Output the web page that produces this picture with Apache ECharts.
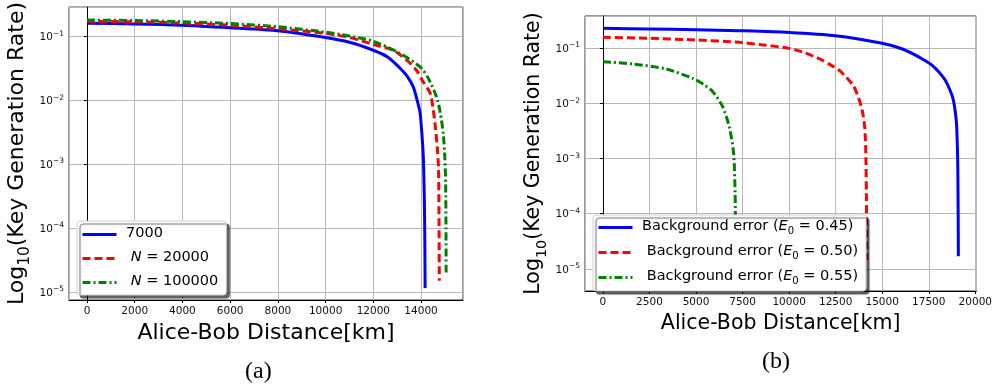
<!DOCTYPE html>
<html>
<head>
<meta charset="utf-8">
<script src="https://cdn.jsdelivr.net/npm/echarts@6/dist/echarts.min.js"></script>
<style>
  html, body { margin: 0; padding: 0; background: #fff; }
  #chart { width: 995px; height: 392px; }
</style>
</head>
<body>
<div id="chart"></div>
<script>
// (a) key rate vs distance for different N
const distA7000 = [0, 2000, 4000, 6000, 8000, 10000, 11000, 12000, 12600, 13100, 13400, 13670, 13850, 13960, 14050, 14100, 14140, 14160, 14170];
const rateA7000 = [0.158, 0.155, 0.148, 0.135, 0.121, 0.095, 0.08, 0.06, 0.047, 0.032, 0.024, 0.0162, 0.0095, 0.0063, 0.0025, 0.00115, 0.00025, 0.00005, 0.0000115];
const distA20000 = [0, 2000, 4000, 6000, 8000, 10000, 11000, 12000, 12840, 13400, 13800, 14100, 14380, 14500, 14600, 14680, 14730, 14750, 14760, 14765];
const rateA20000 = [0.170, 0.167, 0.160, 0.148, 0.13, 0.11, 0.095, 0.074, 0.06, 0.042, 0.0295, 0.019, 0.0129, 0.0075, 0.0038, 0.0018, 0.0009, 0.0002, 0.00004, 0.000015];
const distA100000 = [0, 2000, 4000, 6000, 8000, 10000, 11000, 12000, 13100, 13960, 14300, 14650, 14800, 14930, 15000, 15030, 15045, 15050];
const rateA100000 = [0.178, 0.175, 0.168, 0.157, 0.14, 0.115, 0.1, 0.083, 0.054, 0.033, 0.022, 0.0112, 0.0065, 0.003, 0.0012, 0.0005, 0.0001, 0.000019];

// (b) key rate vs distance for different background error
const distB45 = [0, 2500, 5000, 7330, 10000, 12500, 15000, 16000, 16600, 17200, 17670, 18100, 18380, 18650, 18820, 18950, 19000, 19040, 19060, 19080, 19090];
const rateB45 = [0.227, 0.222, 0.215, 0.206, 0.192, 0.167, 0.1216, 0.098, 0.08, 0.062, 0.049, 0.035, 0.0263, 0.017, 0.0115, 0.006, 0.0037, 0.0015, 0.0007, 0.0001, 0.000017];
const distB50 = [0, 2500, 5000, 7330, 8500, 10000, 10800, 11600, 12200, 12670, 13100, 13480, 13750, 13920, 14050, 14100, 14130, 14150, 14160, 14165];
const rateB50 = [0.156, 0.150, 0.14, 0.127, 0.115, 0.0986, 0.083, 0.0646, 0.05, 0.04, 0.029, 0.02, 0.012, 0.0076, 0.004, 0.0021, 0.0008, 0.00023, 0.00005, 0.0000145];
const distB55 = [0, 1620, 3400, 4830, 5400, 5900, 6430, 6790, 7020, 7100, 7120, 7130];
const rateB55 = [0.0565, 0.0513, 0.0417, 0.0282, 0.022, 0.0162, 0.0087, 0.0037, 0.00123, 0.00023, 0.00005, 0.000016];

const namesA = ['7000', 'N = 20000', 'N = 100000'];
const namesB = ['Background error (E0 = 0.45)', 'Background error (E0 = 0.50)', 'Background error (E0 = 0.55)'];

const FONT = 'DejaVu Sans';
const pair = (xs, ys) => xs.map((x, i) => [x, ys[i]]);

const chart = echarts.init(document.getElementById('chart'));

function xAxisCfg(grid, min, max, step, fs, gap) {
  return {
    type: 'value', gridIndex: grid, min: min, max: max,
    minInterval: step, maxInterval: step,
    name: 'Alice-Bob Distance[km]', nameLocation: 'middle', nameGap: gap,
    nameTextStyle: { fontFamily: FONT, fontSize: fs, color: '#000' },
    axisLine: { onZero: false, lineStyle: { color: '#000', width: 1 } },
    axisTick: { show: true, length: 3, lineStyle: { color: '#000' } },
    axisLabel: {
      fontFamily: FONT, fontSize: 10.5, color: '#111', margin: 6,
      showMinLabel: false, showMaxLabel: false,
      formatter: v => (Math.abs(v % step) < 1e-6 ? String(v) : '')
    },
    splitLine: { show: true, lineStyle: { color: '#b8b8b8', width: 1 } }
  };
}

function yAxisCfg(grid, min, max, fs, gap) {
  return {
    type: 'log', logBase: 10, gridIndex: grid, min: min, max: max,
    name: '{a|Log}{s|10}{a|(Key Generation Rate)}',
    nameLocation: 'middle', nameRotate: 90, nameGap: gap,
    nameTextStyle: {
      fontFamily: FONT, color: '#000',
      rich: {
        a: { fontFamily: FONT, fontSize: fs, lineHeight: 26, verticalAlign: 'top', color: '#000' },
        s: { fontFamily: FONT, fontSize: fs * 0.7, lineHeight: 18, verticalAlign: 'bottom', color: '#000' }
      }
    },
    axisLine: { lineStyle: { color: '#000', width: 1 } },
    axisTick: { show: true, length: 3, lineStyle: { color: '#000' } },
    axisLabel: {
      margin: 5,
      showMinLabel: false, showMaxLabel: false,
      formatter: v => {
        const e = Math.log10(v);
        if (Math.abs(e - Math.round(e)) > 0.01) return '';
        return '{b|10}{p|\u2212' + Math.abs(Math.round(e)) + '}';
      },
      rich: {
        b: { fontFamily: FONT, fontSize: 10.5, lineHeight: 13, verticalAlign: 'bottom', color: '#111' },
        p: { fontFamily: FONT, fontSize: 7.5, lineHeight: 8, verticalAlign: 'top', color: '#111' }
      }
    },
    splitLine: { show: true, lineStyle: { color: '#b8b8b8', width: 1 } }
  };
}

function lineSeries(name, xi, data, color, dash) {
  return {
    name: name, type: 'line', xAxisIndex: xi, yAxisIndex: xi,
    data: data, symbol: 'none', smooth: 0.25,
    lineStyle: { color: color, width: 3, type: dash },
    itemStyle: { color: color }
  };
}

const legendBase = {
  orient: 'vertical', align: 'left',
  backgroundColor: '#fff', borderColor: '#d0d0d0', borderWidth: 1, borderRadius: 3,
  shadowColor: 'rgba(0,0,0,0.6)', shadowBlur: 1, shadowOffsetX: 3, shadowOffsetY: 3,
  itemWidth: 34, itemHeight: 14,
  itemStyle: { opacity: 0 },
  lineStyle: { width: 3 }
};

const legText = {
  t: { fontFamily: FONT, fontSize: 14.5, color: '#000', lineHeight: 17, verticalAlign: 'top' },
  i: { fontFamily: FONT, fontSize: 14.5, fontStyle: 'italic', color: '#000', lineHeight: 17, verticalAlign: 'top' },
  s: { fontFamily: FONT, fontSize: 10, color: '#000', lineHeight: 12, verticalAlign: 'bottom' }
};

chart.setOption({
  animation: false,
  grid: [
    { left: 69, top: 7, width: 394, height: 293, show: true, borderColor: '#333', borderWidth: 1, containLabel: false },
    { left: 585, top: 16, width: 393, height: 275, show: true, borderColor: '#333', borderWidth: 1, containLabel: false }
  ],
  xAxis: [
    xAxisCfg(0, -754, 15758, 2000, 22, 22),
    xAxisCfg(1, -963, 20053, 2500, 20.5, 21)
  ],
  yAxis: [
    yAxisCfg(0, Math.pow(10, -5.125), Math.pow(10, -0.547), 22, 37),
    yAxisCfg(1, Math.pow(10, -5.4), Math.pow(10, -0.42), 20.5, 36)
  ],
  legend: [
    Object.assign({}, legendBase, {
      data: namesA, left: 77, top: 221, itemGap: 9, padding: [5, 8, 6, 4],
      formatter: n => n === '7000' ? '{t| 7000}' : '{t|  }{i|N}{t| = ' + n.split('= ')[1] + '}',
      textStyle: { rich: legText }
    }),
    Object.assign({}, legendBase, {
      data: namesB, left: 593, top: 215, itemGap: 8, padding: [4, 8, 5, 4],
      formatter: n => {
        const pre = n.endsWith('0.45)') ? ' ' : '  ';
        return '{t|' + pre + 'Background error (}{i|E}{s|0}{t| = ' + n.slice(-5, -1) + ')}';
      },
      textStyle: { rich: legText }
    })
  ],
  graphic: [
    { type: 'text', left: 245, top: 360, style: { text: '(a)', fontFamily: 'Liberation Serif', fontSize: 24, fill: '#000' } },
    { type: 'text', left: 762, top: 350, style: { text: '(b)', fontFamily: 'Liberation Serif', fontSize: 24, fill: '#000' } }
  ],
  series: [
    lineSeries(namesA[0], 0, pair(distA7000, rateA7000), '#0000ff', 'solid'),
    lineSeries(namesA[1], 0, pair(distA20000, rateA20000), '#ff0000', [8, 4]),
    lineSeries(namesA[2], 0, pair(distA100000, rateA100000), '#008000', [8, 3, 2, 3]),
    lineSeries(namesB[0], 1, pair(distB45, rateB45), '#0000ff', 'solid'),
    lineSeries(namesB[1], 1, pair(distB50, rateB50), '#ff0000', [8, 4]),
    lineSeries(namesB[2], 1, pair(distB55, rateB55), '#008000', [8, 3, 2, 3])
  ]
});
</script>
</body>
</html>
